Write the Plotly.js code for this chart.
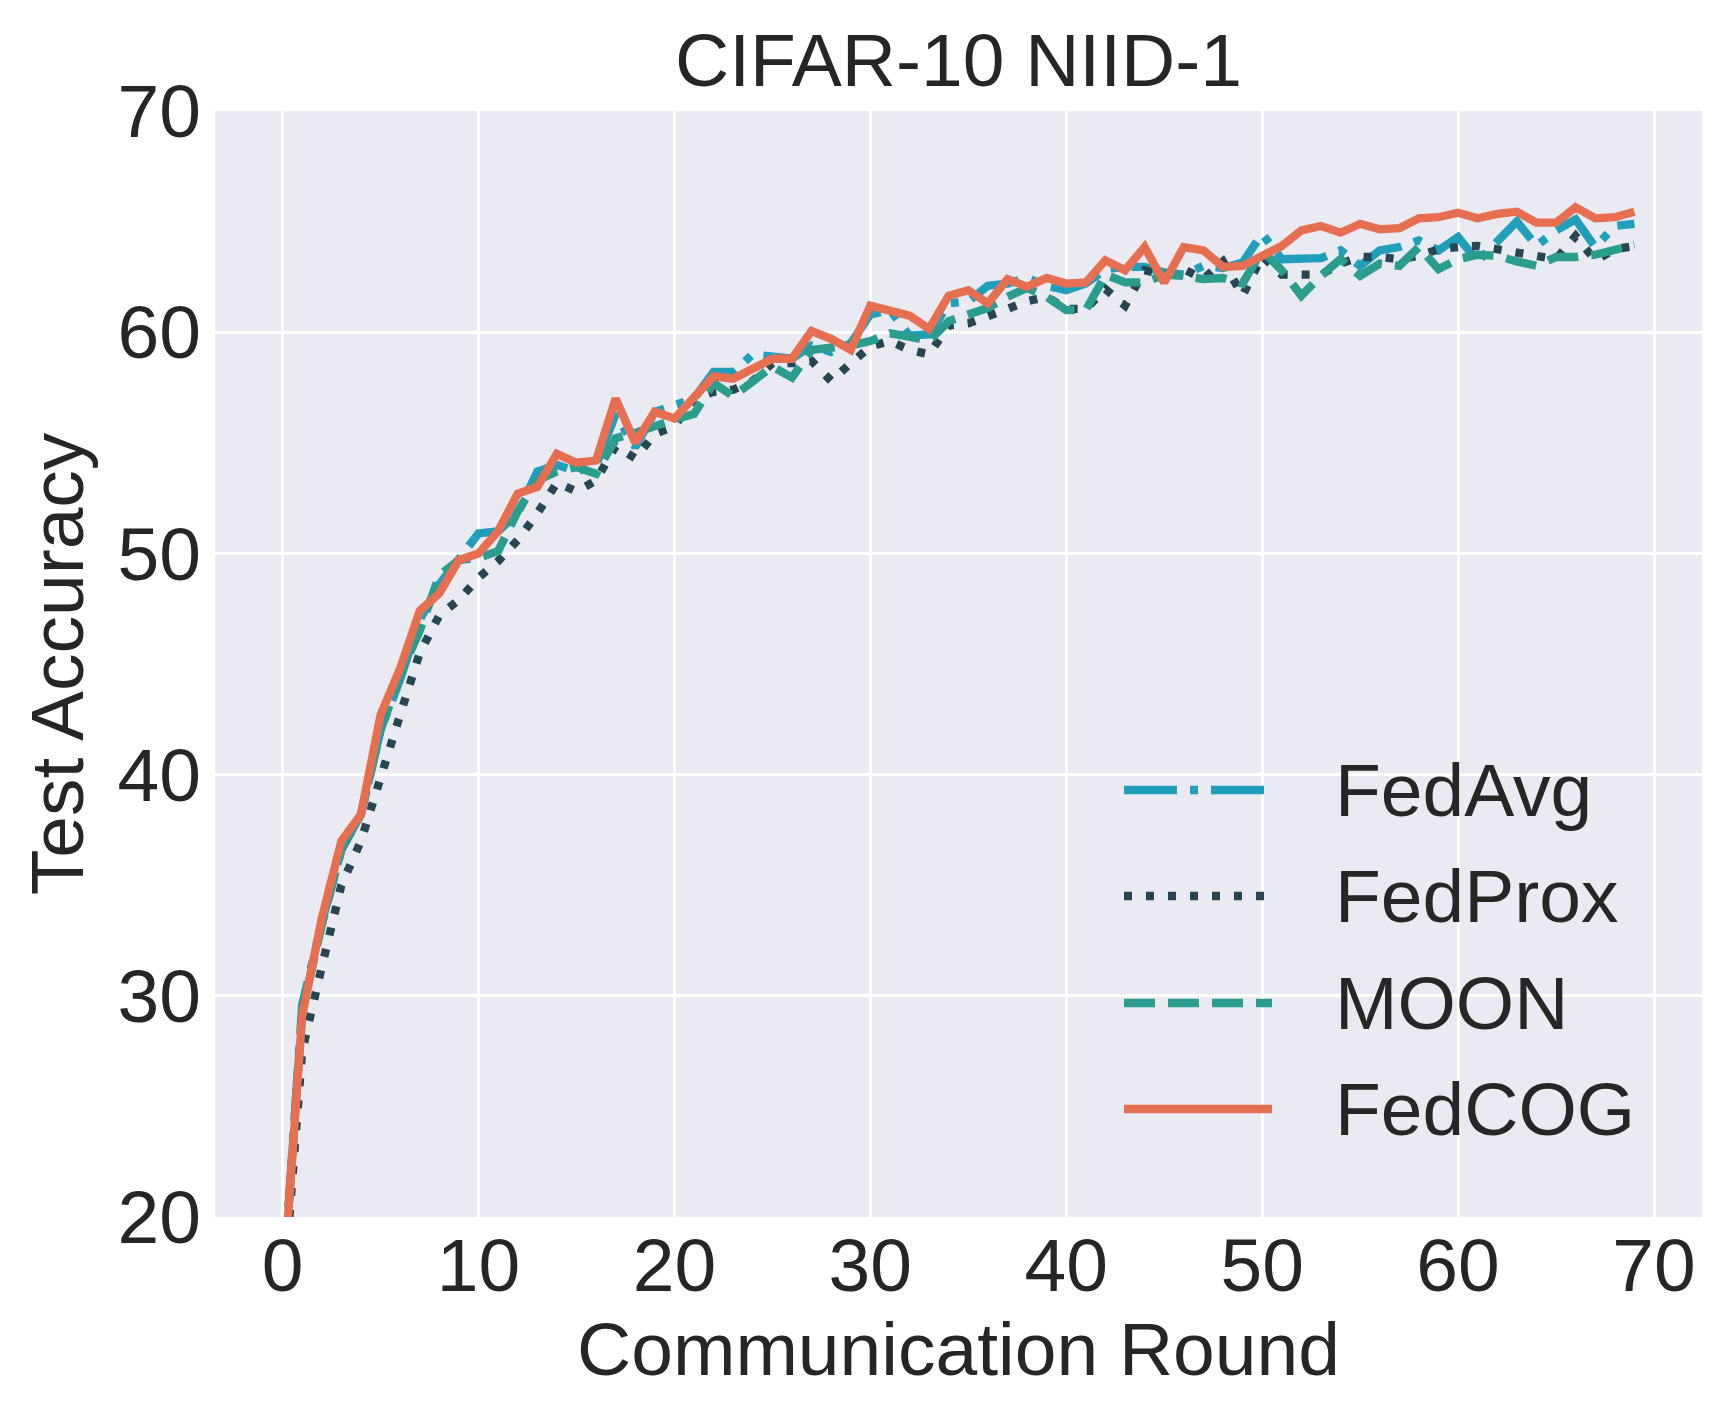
<!DOCTYPE html>
<html>
<head>
<meta charset="utf-8">
<script src="https://cdn.plot.ly/plotly-3.0.1.min.js"></script>
<style>
  html, body { margin: 0; padding: 0; background: #ffffff; }
  #graph { width: 1731px; height: 1417px; }
</style>
</head>
<body>
<div id="graph"></div>
<script>
'use strict';

// communication rounds 0..69
var rounds = [];
for (var r = 0; r < 70; r++) rounds.push(r);

var seriesNames = ['FedAvg', 'FedProx', 'MOON', 'FedCOG'];

var fedAvg = [
  16.5, 29.6, 33.3, 36.6, 38.2, 42.0, 44.3, 47.0, 48.6, 49.8,
  50.9, 51.0, 51.8, 53.7, 54.0, 53.7, 54.0, 56.3, 54.8, 56.4,
  56.7, 57.0, 58.2, 58.2, 59.0, 58.9, 58.8, 59.4, 59.1, 59.5,
  60.8, 61.0, 59.85, 59.9, 61.3, 61.4, 62.1, 62.2, 62.45, 62.1,
  61.9, 62.2, 62.85, 62.95, 62.95, 62.7, 62.6, 63.0, 62.9, 63.15,
  64.45, 63.3, 63.3, 63.35, 63.7, 63.0, 63.7, 63.85, 64.15, 63.7,
  64.3, 63.2, 64.1, 65.0, 63.9, 64.6, 65.1, 63.85, 64.8, 64.9
];

var fedProx = [
  16.0, 27.5, 31.3, 35.0, 37.0, 40.0, 42.7, 45.5, 47.2, 47.9,
  48.9, 49.65, 50.6, 51.8, 53.2, 52.8, 53.3, 54.85, 54.3, 55.4,
  55.75, 57.0, 57.3, 57.4, 57.8, 58.6, 58.6, 58.7, 57.8, 58.6,
  59.35, 59.6, 59.2, 59.0, 60.3, 60.4, 60.7, 61.05, 61.4, 61.6,
  61.05, 61.05, 61.95, 61.2, 62.8, 62.6, 62.85, 62.4, 63.2, 61.65,
  63.45, 62.6, 62.6, 62.6, 63.1, 63.4, 63.4, 63.3, 63.45, 63.75,
  63.85, 63.9, 63.75, 63.6, 63.45, 63.3, 64.35, 63.25, 63.75, 63.9
];

var moon = [
  16.5, 29.3, 33.2, 36.6, 38.2, 42.0, 44.5, 46.5, 49.0, 49.7,
  49.8, 50.1, 51.9, 53.3, 53.7, 53.9, 53.6, 55.2, 55.45, 55.8,
  56.05, 56.3, 57.7, 57.1, 57.8, 58.45, 57.95, 59.2, 59.3, 59.4,
  59.6, 59.95, 59.8, 59.6, 60.5, 60.8, 61.1, 61.6, 62.0, 61.6,
  61.0, 61.0, 62.6, 62.25, 62.25, 62.6, 62.55, 62.4, 62.45, 62.2,
  63.7, 62.8, 61.65, 62.55, 63.3, 62.55, 63.1, 63.0, 63.85, 62.85,
  63.3, 63.5, 63.45, 63.2, 63.0, 63.4, 63.4, 63.5, 63.7, 63.95
];

var fedCog = [
  16.5, 29.1, 33.5, 37.0, 38.2, 42.7, 44.8, 47.4, 48.2, 49.7,
  50.0, 51.0, 52.7, 53.0, 54.5, 54.1, 54.2, 57.0, 55.0, 56.4,
  56.1, 57.0, 58.0, 57.9, 58.3, 58.8, 58.8, 60.05, 59.7, 59.2,
  61.2, 60.95, 60.75, 60.15, 61.65, 61.9, 61.3, 62.4, 62.05, 62.45,
  62.2, 62.25, 63.25, 62.8, 63.85, 62.25, 63.85, 63.7, 62.95, 63.0,
  63.45, 63.9, 64.6, 64.8, 64.5, 64.9, 64.65, 64.7, 65.15, 65.2,
  65.4, 65.15, 65.35, 65.45, 64.95, 64.95, 65.65, 65.15, 65.2, 65.45
];

var xTicks = [0, 10, 20, 30, 40, 50, 60, 70];
var yTicks = [20, 30, 40, 50, 60, 70];

/**
 * Styles.
 */
var W = 1731, H = 1417;
var FONT = 'Liberation Sans, Arial, Helvetica, sans-serif';
var TEXT = '#262626';
var FS = 75;
var LW = 8.3;

var styles = [
  { color: '#219ebc', dash: '53px,13px,8px,13px' },  // dash-dot
  { color: '#264653', dash: '8px,14px' },            // dotted
  { color: '#2a9d8f', dash: '31px,13px' },           // dashed
  { color: '#e76f51', dash: 'solid' }                // solid
];

var values = [fedAvg, fedProx, moon, fedCog];

var margin = { l: 215, r: 29, t: 111, b: 200 };
var plotW = W - margin.l - margin.r;
var plotH = H - margin.t - margin.b;

function toPaperX(px) { return (px - margin.l) / plotW; }
function toPaperY(py) { return (H - margin.b - py) / plotH; }

var data = values.map(function (v, i) {
  return {
    type: 'scatter',
    mode: 'lines',
    name: seriesNames[i],
    x: rounds,
    y: v,
    line: { color: styles[i].color, width: LW, dash: styles[i].dash },
    hoverinfo: 'x+y+name'
  };
});

// Legend drawn by hand so that the line samples keep their long matplotlib look.
var legendRows = [790, 896, 1003, 1109];
var shapes = [], annotations = [];
seriesNames.forEach(function (name, i) {
  shapes.push({
    type: 'line', xref: 'paper', yref: 'paper',
    x0: toPaperX(1124), x1: toPaperX(1272),
    y0: toPaperY(legendRows[i]), y1: toPaperY(legendRows[i]),
    line: { color: styles[i].color, width: LW, dash: styles[i].dash }
  });
  annotations.push({
    xref: 'paper', yref: 'paper',
    x: toPaperX(1333), y: toPaperY(legendRows[i]),
    xanchor: 'left', yanchor: 'middle',
    text: name, showarrow: false,
    font: { family: FONT, size: FS, color: TEXT }
  });
});

var axisBase = {
  showgrid: true,
  gridcolor: '#ffffff',
  gridwidth: 3,
  zeroline: false,
  showline: false,
  ticks: '',
  tickfont: { family: FONT, size: FS, color: TEXT },
  automargin: false,
  fixedrange: true
};

var layout = {
  width: W,
  height: H,
  margin: margin,
  paper_bgcolor: '#ffffff',
  plot_bgcolor: '#eaeaf2',
  showlegend: false,
  font: { family: FONT, color: TEXT },
  title: {
    text: 'CIFAR-10 NIID-1',
    x: 0.5, xref: 'paper', xanchor: 'center',
    y: 1 - 86 / H, yref: 'container', yanchor: 'bottom',
    font: { family: FONT, size: FS, color: TEXT }
  },
  xaxis: Object.assign({}, axisBase, {
    range: [-3.45, 72.45],
    tickmode: 'array',
    tickvals: xTicks,
    ticklabelstandoff: -2,
    title: { text: 'Communication Round', standoff: 10, font: { family: FONT, size: FS, color: TEXT } }
  }),
  yaxis: Object.assign({}, axisBase, {
    range: [20, 70],
    tickmode: 'array',
    tickvals: yTicks,
    ticklabelstandoff: 13,
    title: { text: 'Test Accuracy', standoff: 9, font: { family: FONT, size: FS, color: TEXT } }
  }),
  shapes: shapes,
  annotations: annotations
};

Plotly.newPlot('graph', data, layout, { displayModeBar: false, staticPlot: true });
</script>
</body>
</html>
